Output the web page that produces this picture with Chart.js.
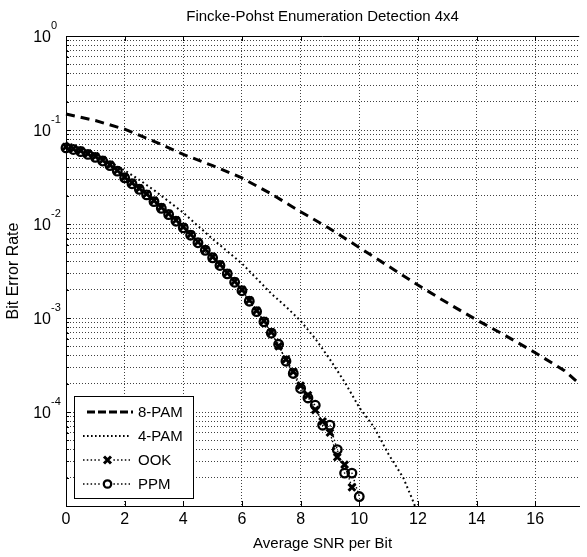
<!DOCTYPE html>
<html><head><meta charset="utf-8">
<script src="https://cdn.jsdelivr.net/npm/chart.js@4.4.0/dist/chart.umd.min.js"></script>
<style>html,body{margin:0;padding:0;background:#fff;overflow:hidden}#wrap{width:587px;height:557px;position:relative}</style>
</head><body><div id="wrap"><canvas id="c" width="587" height="557"></canvas></div>
<script>
const titleText = 'Fincke-Pohst Enumeration Detection 4x4';
const xTitle = 'Average SNR per Bit';
const yTitle = 'Bit Error Rate';
const seriesNames = ['8-PAM', '4-PAM', 'OOK', 'PPM'];
const xTicks = [0, 2, 4, 6, 8, 10, 12, 14, 16];
const yDecades = [1e-5, 1e-4, 1e-3, 1e-2, 1e-1, 1];
const yMinorMultipliers = [2, 3, 4, 5, 6, 7, 8, 9];
const yLabelValues = [1, 1e-1, 1e-2, 1e-3, 1e-4];
const yLabelExponents = ['0', '-1', '-2', '-3', '-4'];

const pam8X = [0, 1, 2, 3, 4, 5, 6, 7, 8, 9, 10, 11, 12, 13, 14, 15, 16, 17, 17.5, 18];
const pam8Y = [0.148, 0.126, 0.102, 0.0759, 0.0550, 0.0417, 0.0309, 0.0209, 0.0135, 0.00891, 0.00562, 0.00355, 0.00224, 0.00145, 0.000955, 0.000646, 0.000427, 0.000275, 0.000200, 0.000145];

const pam4X = [0, 0.5, 1, 1.5, 2, 2.5, 3, 3.5, 4, 4.5, 5, 5.5, 6, 6.5, 7, 7.5, 8, 8.5, 9, 9.5, 10, 10.5, 11, 11.5, 11.8, 11.9];
const pam4Y = [0.0741, 0.0646, 0.0550, 0.0457, 0.0372, 0.0295, 0.0229, 0.0174, 0.0132, 0.00955, 0.00692, 0.00513, 0.00380, 0.00263, 0.00182, 0.00132, 0.000933, 0.000603, 0.000363, 0.000209, 0.000112, 0.0000692, 0.0000355, 0.0000200, 0.0000120, 0.0000100];

const ookX = [0, 0.25, 0.5, 0.75, 1, 1.25, 1.5, 1.75, 2, 2.25, 2.5, 2.75, 3, 3.25, 3.5, 3.75, 4, 4.25, 4.5, 4.75, 5, 5.25, 5.5, 5.75, 6, 6.25, 6.5, 6.75, 7, 7.25, 7.5, 7.75, 8, 8.25, 8.5, 8.75, 9, 9.25, 9.5, 9.75];
const ookY = [0.0661, 0.0631, 0.0603, 0.0562, 0.0525, 0.0479, 0.0427, 0.0372, 0.0316, 0.0275, 0.0240, 0.0209, 0.0178, 0.0151, 0.0129, 0.0110, 0.00933, 0.00776, 0.00646, 0.00537, 0.00447, 0.00372, 0.00302, 0.00245, 0.00200, 0.00155, 0.00120, 0.000933, 0.000708, 0.000501, 0.000363, 0.000269, 0.000191, 0.000151, 0.000105, 0.0000794, 0.0000603, 0.0000331, 0.0000275, 0.0000158];

const ppmX = [0, 0.25, 0.5, 0.75, 1, 1.25, 1.5, 1.75, 2, 2.25, 2.5, 2.75, 3, 3.25, 3.5, 3.75, 4, 4.25, 4.5, 4.75, 5, 5.25, 5.5, 5.75, 6, 6.25, 6.5, 6.75, 7, 7.25, 7.5, 7.75, 8, 8.25, 8.5, 8.75, 9, 9.25, 9.5, 9.75, 10];
const ppmY = [0.0645, 0.0620, 0.0590, 0.0550, 0.0512, 0.0468, 0.0418, 0.0365, 0.0310, 0.0268, 0.0234, 0.0204, 0.0173, 0.0147, 0.0126, 0.0107, 0.00910, 0.00760, 0.00632, 0.00525, 0.00437, 0.00362, 0.00295, 0.00240, 0.00195, 0.00151, 0.00117, 0.000910, 0.000690, 0.000525, 0.000347, 0.000257, 0.000178, 0.000141, 0.000118, 0.0000724, 0.0000724, 0.0000398, 0.0000224, 0.0000224, 0.0000126];

const FONT = '"Liberation Sans", Arial, Helvetica, sans-serif';
const pts = (xs, ys) => xs.map((x, i) => ({x: x, y: ys[i]}));

const yTickValues = [];
yDecades.forEach(d => {
  yTickValues.push(d);
  if (d < 1) yMinorMultipliers.forEach(m => yTickValues.push(d * m));
});
yTickValues.sort((a, b) => a - b);
const isDecade = v => yDecades.some(d => Math.abs(v / d - 1) < 1e-6);

const overlay = {
  id: 'overlay',
  afterDraw(chart) {
    const ctx = chart.ctx, a = chart.chartArea;
    const xs = chart.scales.x, ys = chart.scales.y;
    ctx.save();
    ctx.fillStyle = '#000';
    ctx.font = '15px ' + FONT;
    ctx.textAlign = 'center';
    ctx.textBaseline = 'middle';
    ctx.fillText(titleText, (a.left + a.right) / 2, 17);
    ctx.strokeStyle = '#000';
    ctx.lineWidth = 1;
    ctx.setLineDash([]);
    ctx.beginPath();
    ctx.moveTo(a.left, Math.round(a.top) + 0.5);
    ctx.lineTo(a.right, Math.round(a.top) + 0.5);
    ctx.stroke();
    ctx.beginPath();
    xTicks.forEach(v => {
      const px = Math.round(xs.getPixelForValue(v)) + 0.5;
      ctx.moveTo(px, a.top); ctx.lineTo(px, a.top + 5);
      ctx.moveTo(px, a.bottom); ctx.lineTo(px, a.bottom - 5);
    });
    yTickValues.forEach(v => {
      const py = Math.round(ys.getPixelForValue(v)) + 0.5;
      const len = isDecade(v) ? 5 : 3;
      ctx.moveTo(a.left, py); ctx.lineTo(a.left + len, py);
    });
    ctx.stroke();
    yLabelValues.forEach((v, i) => {
      const py = ys.getPixelForValue(v);
      ctx.font = '16px ' + FONT;
      ctx.textAlign = 'right';
      ctx.textBaseline = 'alphabetic';
      ctx.fillText('10', 51, py + 6);
      ctx.font = '11px ' + FONT;
      ctx.textAlign = 'left';
      ctx.fillText(yLabelExponents[i], 51, py - 7);
    });
    const lx = 74.5, ly = 396.5, lw = 119, lh = 102;
    ctx.fillStyle = '#fff';
    ctx.fillRect(lx, ly, lw, lh);
    ctx.strokeStyle = '#000';
    ctx.lineWidth = 1;
    ctx.strokeRect(lx, ly, lw, lh);
    const rows = [412, 436, 460, 484];
    ctx.font = '15px ' + FONT;
    ctx.textAlign = 'left';
    ctx.textBaseline = 'middle';
    rows.forEach((ry, i) => {
      ctx.fillStyle = '#000';
      ctx.fillText(seriesNames[i], 138, ry + 1);
    });
    ctx.lineWidth = 3; ctx.setLineDash([8, 3]);
    ctx.beginPath(); ctx.moveTo(87, rows[0]); ctx.lineTo(133, rows[0]); ctx.stroke();
    ctx.lineWidth = 1.8; ctx.setLineDash([1.6, 2.4]);
    ctx.beginPath(); ctx.moveTo(83, rows[1]); ctx.lineTo(130, rows[1]); ctx.stroke();
    [rows[2], rows[3]].forEach(ry => {
      ctx.lineWidth = 1.6; ctx.setLineDash([1.5, 2.3]);
      ctx.beginPath(); ctx.moveTo(83, ry); ctx.lineTo(130, ry); ctx.stroke();
    });
    ctx.setLineDash([]);
    ctx.fillStyle = '#fff';
    ctx.fillRect(101, rows[2] - 5, 12, 10);
    ctx.fillRect(101, rows[3] - 5, 12, 10);
    ctx.lineWidth = 3;
    ctx.beginPath();
    ctx.moveTo(104, rows[2] - 3.5); ctx.lineTo(111, rows[2] + 3.5);
    ctx.moveTo(111, rows[2] - 3.5); ctx.lineTo(104, rows[2] + 3.5);
    ctx.stroke();
    ctx.lineWidth = 2.3;
    ctx.beginPath(); ctx.arc(107.5, rows[3], 3.7, 0, Math.PI * 2); ctx.stroke();
    ctx.restore();
  }
};

new Chart(document.getElementById('c').getContext('2d'), {
  type: 'line',
  data: {
    datasets: [
      {label: seriesNames[0], data: pts(pam8X, pam8Y), borderColor: '#000', borderWidth: 3, borderDash: [9, 6],
       pointRadius: 0, fill: false, tension: 0, clip: 10},
      {label: seriesNames[1], data: pts(pam4X, pam4Y), borderColor: '#000', borderWidth: 2, borderDash: [1.8, 3],
       pointRadius: 0, fill: false, tension: 0, clip: 10},
      {label: seriesNames[3], data: pts(ppmX, ppmY), borderColor: '#000', borderWidth: 1.4, borderDash: [1.4, 2.4],
       pointStyle: 'circle', pointRadius: 4.3, pointBorderWidth: 2.3, pointBorderColor: '#000',
       pointBackgroundColor: 'rgba(0,0,0,0)', fill: false, tension: 0, clip: 10},
      {label: seriesNames[2], data: pts(ookX, ookY), borderColor: '#000', borderWidth: 1.4, borderDash: [1.4, 2.4],
       pointStyle: 'crossRot', pointRadius: 4.8, pointBorderWidth: 3, pointBorderColor: '#000',
       pointBackgroundColor: '#000', fill: false, tension: 0, clip: 10}
    ]
  },
  options: {
    responsive: false,
    animation: false,
    events: [],
    layout: {padding: {top: 36, right: 0, left: 0, bottom: 0}},
    plugins: {legend: {display: false}, title: {display: false}, tooltip: {enabled: false}},
    scales: {
      x: {
        type: 'linear', min: 0, max: 17.5,
        afterBuildTicks: s => { s.ticks = xTicks.map(v => ({value: v})); },
        afterFit: s => { s.height = 51; },
        ticks: {color: '#000', font: {family: FONT, size: 16}, padding: 4, maxRotation: 0, autoSkip: false,
                callback: v => String(v)},
        grid: {color: c => (c.tick && c.tick.value === 0) ? 'rgba(0,0,0,0)' : 'rgba(0,0,0,0.75)', lineWidth: 1, drawTicks: false},
        border: {display: true, color: '#000', width: 1, dash: [1, 2]},
        title: {display: true, text: xTitle, color: '#000', font: {family: FONT, size: 15}, padding: {top: 4, bottom: 4}}
      },
      y: {
        type: 'logarithmic', min: 1e-5, max: 1,
        afterBuildTicks: s => { s.ticks = yTickValues.map(v => ({value: v, major: isDecade(v)})); },
        afterFit: s => { s.width = 66; },
        ticks: {display: false, autoSkip: false},
        grid: {color: c => (c.tick && (c.tick.value >= 0.99 || c.tick.value <= 1.01e-5)) ? 'rgba(0,0,0,0)' : 'rgba(0,0,0,0.75)', lineWidth: 1, drawTicks: false},
        border: {display: true, color: '#000', width: 1, dash: [1, 2]},
        title: {display: true, text: yTitle, color: '#000', font: {family: FONT, size: 16}, padding: {top: 4, bottom: 4}}
      }
    }
  },
  plugins: [overlay]
});
</script></body></html>
